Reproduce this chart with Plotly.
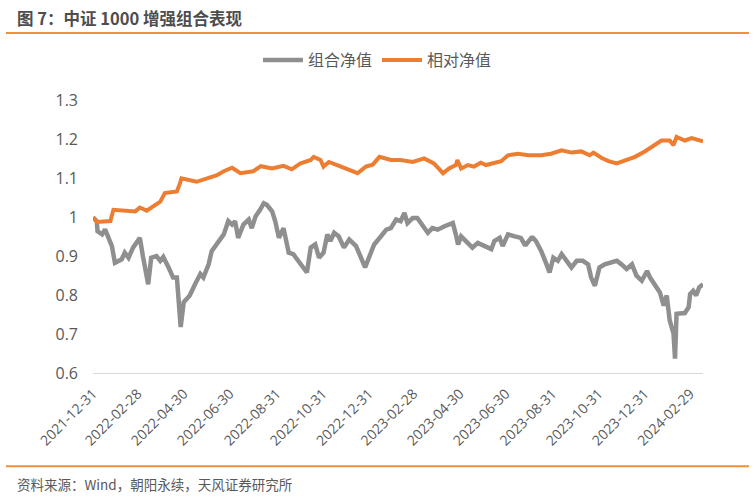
import plotly.graph_objects as go

# ---- data ----
portfolio_dates = [
    "2021-12-31", "2022-01-05", "2022-01-06", "2022-01-12", "2022-01-16", "2022-01-20", "2022-01-25",
    "2022-01-29", "2022-02-07", "2022-02-11", "2022-02-16", "2022-02-22", "2022-03-03", "2022-03-07",
    "2022-03-14", "2022-03-18", "2022-03-25", "2022-03-30", "2022-04-03", "2022-04-10", "2022-04-16",
    "2022-04-21", "2022-04-26", "2022-04-30", "2022-05-08", "2022-05-15", "2022-05-22", "2022-05-26",
    "2022-06-02", "2022-06-06", "2022-06-13", "2022-06-22", "2022-06-28", "2022-07-03", "2022-07-07",
    "2022-07-11", "2022-07-18", "2022-07-25", "2022-07-29", "2022-08-03", "2022-08-09", "2022-08-14",
    "2022-08-18", "2022-08-25", "2022-08-29", "2022-09-03", "2022-09-09", "2022-09-16", "2022-09-22",
    "2022-09-29", "2022-10-10", "2022-10-15", "2022-10-21", "2022-10-26", "2022-11-01", "2022-11-06",
    "2022-11-10", "2022-11-15", "2022-11-21", "2022-11-28", "2022-12-05", "2022-12-14", "2022-12-20",
    "2022-12-26", "2022-12-31", "2023-01-07", "2023-01-16", "2023-01-23", "2023-01-29", "2023-02-05",
    "2023-02-11", "2023-02-16", "2023-02-20", "2023-02-27", "2023-03-05", "2023-03-10", "2023-03-19",
    "2023-03-25", "2023-04-01", "2023-04-10", "2023-04-21", "2023-04-25", "2023-04-28", "2023-05-02",
    "2023-05-11", "2023-05-17", "2023-05-24", "2023-06-02", "2023-06-11", "2023-06-15", "2023-06-22",
    "2023-06-26", "2023-07-03", "2023-07-12", "2023-07-20", "2023-07-25", "2023-07-27", "2023-08-03",
    "2023-08-05", "2023-08-09", "2023-08-16", "2023-08-23", "2023-08-27", "2023-09-01", "2023-09-07",
    "2023-09-12", "2023-09-18", "2023-09-25", "2023-10-02", "2023-10-10", "2023-10-17", "2023-10-21",
    "2023-10-26", "2023-11-01", "2023-11-08", "2023-11-17", "2023-11-24", "2023-11-30", "2023-12-07",
    "2023-12-14", "2023-12-20", "2023-12-27", "2024-01-03", "2024-01-07", "2024-01-14", "2024-01-20",
    "2024-01-25", "2024-01-29", "2024-02-02", "2024-02-07", "2024-02-09", "2024-02-11", "2024-02-22",
    "2024-02-27", "2024-02-29", "2024-03-04", "2024-03-08", "2024-03-12", "2024-03-17",
]
portfolio_nav = [
    1.000, 0.990, 0.964, 0.956, 0.969, 0.947, 0.926,
    0.883, 0.892, 0.909, 0.896, 0.922, 0.947, 0.900,
    0.828, 0.896, 0.900, 0.888, 0.898, 0.871, 0.845,
    0.845, 0.718, 0.782, 0.799, 0.828, 0.854, 0.845,
    0.879, 0.913, 0.930, 0.956, 0.990, 0.981, 0.990,
    0.947, 0.981, 0.994, 0.972, 1.002, 1.019, 1.036,
    1.032, 1.015, 0.990, 0.947, 0.972, 0.909, 0.905,
    0.888, 0.858, 0.922, 0.930, 0.896, 0.909, 0.956,
    0.939, 0.960, 0.951, 0.922, 0.943, 0.926, 0.896,
    0.871, 0.896, 0.930, 0.951, 0.968, 0.972, 0.994,
    0.990, 1.011, 0.985, 0.998, 0.998, 0.985, 0.960,
    0.972, 0.968, 0.977, 0.985, 0.956, 0.930, 0.951,
    0.934, 0.922, 0.934, 0.926, 0.918, 0.939, 0.947,
    0.926, 0.956, 0.951, 0.947, 0.930, 0.930, 0.947,
    0.947, 0.939, 0.913, 0.879, 0.858, 0.896, 0.888,
    0.905, 0.888, 0.871, 0.888, 0.888, 0.879, 0.845,
    0.824, 0.871, 0.879, 0.883, 0.888, 0.879, 0.867,
    0.879, 0.850, 0.837, 0.862, 0.845, 0.824, 0.807,
    0.773, 0.799, 0.735, 0.701, 0.637, 0.752, 0.754,
    0.769, 0.803, 0.811, 0.799, 0.820, 0.828,
]

relative_dates = [
    "2021-12-31", "2022-01-05", "2022-01-23", "2022-01-27", "2022-02-25", "2022-03-03", "2022-03-12",
    "2022-03-30", "2022-04-05", "2022-04-21", "2022-04-25", "2022-04-27", "2022-05-17", "2022-05-31",
    "2022-06-13", "2022-06-22", "2022-07-03", "2022-07-14", "2022-07-31", "2022-08-10", "2022-08-25",
    "2022-09-09", "2022-09-20", "2022-10-01", "2022-10-15", "2022-10-19", "2022-10-28", "2022-11-01",
    "2022-11-08", "2022-11-19", "2022-12-02", "2022-12-16", "2022-12-27", "2023-01-05", "2023-01-14",
    "2023-01-29", "2023-02-11", "2023-02-27", "2023-03-14", "2023-03-27", "2023-04-08", "2023-04-16",
    "2023-04-25", "2023-04-27", "2023-05-02", "2023-05-11", "2023-05-19", "2023-05-28", "2023-06-04",
    "2023-06-15", "2023-06-24", "2023-07-03", "2023-07-16", "2023-07-30", "2023-08-03", "2023-08-16",
    "2023-08-29", "2023-09-12", "2023-09-25", "2023-10-08", "2023-10-19", "2023-10-24", "2023-11-04",
    "2023-11-13", "2023-11-24", "2023-12-05", "2023-12-18", "2023-12-31", "2024-01-13", "2024-01-22",
    "2024-02-02", "2024-02-07", "2024-02-11", "2024-02-22", "2024-03-02", "2024-03-11", "2024-03-17",
]
relative_nav = [
    1.000, 0.988, 0.990, 1.019, 1.015, 1.025, 1.017,
    1.040, 1.062, 1.066, 1.087, 1.100, 1.091, 1.101,
    1.108, 1.118, 1.127, 1.113, 1.118, 1.131, 1.125,
    1.132, 1.123, 1.138, 1.147, 1.155, 1.147, 1.130,
    1.142, 1.134, 1.125, 1.113, 1.130, 1.135, 1.155,
    1.147, 1.147, 1.142, 1.151, 1.138, 1.113, 1.125,
    1.134, 1.147, 1.125, 1.134, 1.130, 1.140, 1.134,
    1.140, 1.144, 1.159, 1.163, 1.159, 1.159, 1.159,
    1.163, 1.172, 1.166, 1.169, 1.159, 1.166, 1.152,
    1.144, 1.138, 1.147, 1.155, 1.169, 1.185, 1.197,
    1.197, 1.185, 1.206, 1.197, 1.203, 1.197, 1.195,
]

series_names = ["组合净值", "相对净值"]
series_colors = ["#8f8f8f", "#ed7d31"]

x_tick_dates = [
    "2021-12-31", "2022-02-28", "2022-04-30", "2022-06-30", "2022-08-31", "2022-10-31",
    "2022-12-31", "2023-02-28", "2023-04-30", "2023-06-30", "2023-08-31", "2023-10-31",
    "2023-12-31", "2024-02-29",
]
y_tick_vals = [0.6, 0.7, 0.8, 0.9, 1.0, 1.1, 1.2, 1.3]
y_tick_text = ["0.6", "0.7", "0.8", "0.9", "1", "1.1", "1.2", "1.3"]

title_text = "图 7：中证 1000 增强组合表现"
source_text = "资料来源：Wind，朝阳永续，天风证券研究所"

# ---- layout geometry ----
W, H = 755, 497
ML, MR, MT, MB = 93, 52, 98, 124
PW, PH = W - ML - MR, H - MT - MB


def px_x(x):
    return (x - ML) / PW


def px_y(y):
    return (H - MB - y) / PH


CJK = "Noto Sans CJK SC"
TXT = "#595959"

fig = go.Figure()
fig.add_trace(go.Scatter(
    x=portfolio_dates, y=portfolio_nav, mode="lines", name=series_names[0],
    line=dict(color=series_colors[0], width=4.5),
))
fig.add_trace(go.Scatter(
    x=relative_dates, y=relative_nav, mode="lines", name=series_names[1],
    line=dict(color=series_colors[1], width=4),
))

fig.update_layout(
    width=W, height=H,
    margin=dict(l=ML, r=MR, t=MT, b=MB, pad=0),
    paper_bgcolor="white", plot_bgcolor="white",
    showlegend=True,
    legend=dict(
        orientation="h", xref="container", yref="container",
        x=0.5, xanchor="center", y=1 - 60 / H, yanchor="middle",
        font=dict(family=CJK, size=16, color=TXT),
        itemwidth=40, tracegroupgap=0,
    ),
    xaxis=dict(
        type="date", range=["2021-12-31", "2024-03-17"],
        tickmode="array", tickvals=x_tick_dates, ticktext=x_tick_dates,
        tickangle=-45, tickfont=dict(family="Open Sans", size=14, color=TXT),
        showgrid=False, zeroline=False,
        showline=True, linecolor="#d9d9d9", linewidth=1,
        ticks="", ticklabelstandoff=6,
    ),
    yaxis=dict(
        range=[0.6, 1.3], tickmode="array", tickvals=y_tick_vals, ticktext=y_tick_text,
        tickfont=dict(family="Open Sans", size=16, color=TXT),
        showgrid=False, zeroline=False, showline=False, ticks="",
        ticklabelstandoff=14,
    ),
    shapes=[
        dict(type="line", xref="paper", yref="paper", x0=px_x(6), x1=px_x(749),
             y0=px_y(30), y1=px_y(30), line=dict(color="#f0903a", width=2)),
        dict(type="line", xref="paper", yref="paper", x0=px_x(6), x1=px_x(749),
             y0=px_y(467), y1=px_y(467), line=dict(color="#f0903a", width=2)),
    ],
    annotations=[
        dict(text="<b>" + title_text + "</b>", xref="paper", yref="paper",
             x=px_x(15), y=px_y(15), xanchor="left", yanchor="middle", showarrow=False,
             font=dict(family=CJK, size=16.5, color="#4d4d4d")),
        dict(text=source_text, xref="paper", yref="paper",
             x=px_x(15), y=px_y(485), xanchor="left", yanchor="middle", showarrow=False,
             font=dict(family=CJK, size=13.5, color=TXT)),
    ],
)

fig.write_html("out.html")
